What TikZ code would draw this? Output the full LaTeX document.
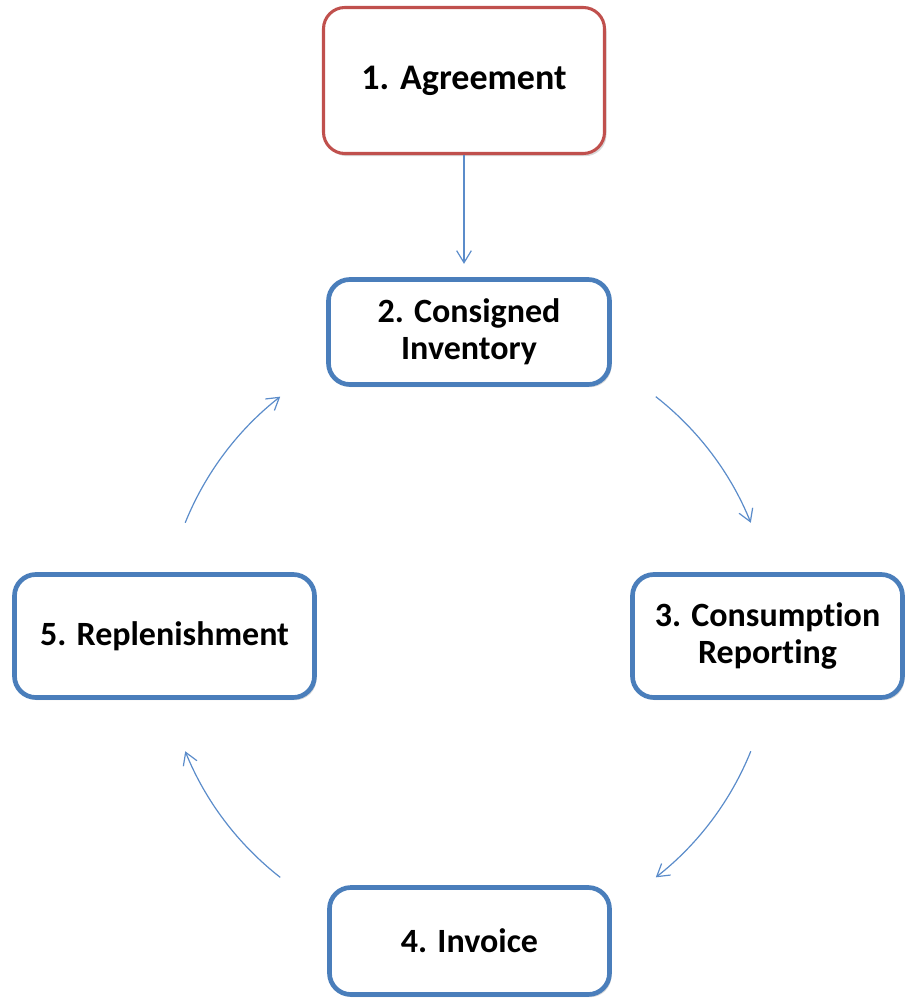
\documentclass[tikz,border=0pt]{standalone}
\usepackage{fontspec}
\setmainfont[Ligatures=NoCommon]{Carlito}
\usetikzlibrary{calc,arrows.meta,shadows}
\definecolor{boxblue}{HTML}{4A7EBB}
\definecolor{boxred}{HTML}{C0504D}
\definecolor{arrowblue}{HTML}{5B8CCA}

\tikzset{
  stepbox/.style={draw=boxblue, line width=3.5pt, rounded corners=16pt, fill=white,
    align=center, font=\fontsize{25.5}{27.75}\selectfont\bfseries,
    drop shadow={opacity=0.3, shadow xshift=1.5pt, shadow yshift=-2pt}},
  startbox/.style={stepbox, draw=boxred, line width=2.3pt,
    font=\fontsize{27}{30}\selectfont\bfseries},
  flow/.style={arrowblue, line width=0.9pt, -{Straight Barb[length=9pt,width=11pt]}}
}

\begin{document}
\begin{tikzpicture}[x=0.75pt,y=0.75pt]
      \useasboundingbox (0,0) rectangle (906,-999);
      \node[startbox, minimum width=210.75pt, minimum height=109.5pt] (agree) at (464,-80.5) {1. Agreement};
      \node[stepbox, minimum width=210.75pt, minimum height=78.75pt] (consign) at (469,-332) {2. Consigned\\Inventory};
      \node[stepbox, minimum width=202.5pt, minimum height=92.25pt] (report) at (767.5,-636) {3. Consumption\\Reporting};
      \node[stepbox, minimum width=210pt, minimum height=80.25pt] (invoice) at (469.5,-941) {4. Invoice};
      \node[stepbox, minimum width=225pt, minimum height=92.25pt] (replen) at (164.5,-636) {5. Replenishment};
      \coordinate (hub) at (468,-637);
      \coordinate (c23) at ($(hub)+(52:305)$);
      \coordinate (c34) at ($(hub)+(-22:305)$);
      \coordinate (c45) at ($(hub)+(-128:305)$);
      \coordinate (c52) at ($(hub)+(158:305)$);
      \draw[flow, shorten >=10pt] (agree.south) -- (agree.south |- consign.north);
      \draw[flow] (c23) arc[start angle=52, end angle=22, radius=305];
      \draw[flow] (c34) arc[start angle=-22, end angle=-52, radius=305];
      \draw[flow] (c45) arc[start angle=-128, end angle=-158, radius=305];
      \draw[flow] (c52) arc[start angle=158, end angle=128, radius=305];
    \end{tikzpicture}
\end{document}
